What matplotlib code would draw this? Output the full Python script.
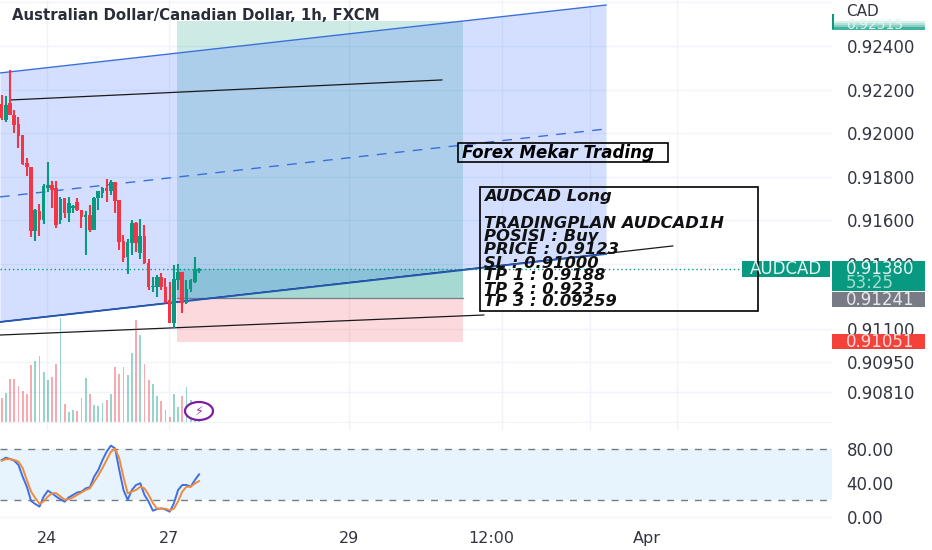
import matplotlib
matplotlib.use('Agg')
import matplotlib.pyplot as plt
from matplotlib.patches import Rectangle, Ellipse

# candles, one row per hour
opens = [.92134, .92060, .92138, .92083, .92042, .91991, .91863, .91845, .91551, .91643, .91601, .91748,
         .91762, .91748, .91601, .91702, .91633, .91656, .91684, .91647, .91615, .91624, .91555, .91702,
         .91725, .91748, .91734, .91776, .91693, .91505, .91431, .91496, .91588, .91450, .91528, .91404,
         .91294, .91294, .91340, .91294, .91234, .91129, .91326, .91363, .91220, .91285, .91317, .91367]
highs = [.92175, .92170, .92290, .92106, .92074, .91991, .91886, .91845, .91652, .91675, .91767, .91868,
         .91780, .91780, .91707, .91702, .91707, .91670, .91702, .91647, .91643, .91670, .91707, .91734,
         .91753, .91790, .91785, .91776, .91693, .91532, .91514, .91601, .91592, .91606, .91578, .91422,
         .91340, .91349, .91358, .91335, .91317, .91395, .91399, .91363, .91326, .91331, .91431, .91381]
lows = [.92060, .92051, .92083, .92001, .91932, .91854, .91803, .91523, .91505, .91528, .91583, .91730,
        .91656, .91565, .91583, .91611, .91592, .91633, .91643, .91565, .91441, .91546, .91555, .91647,
        .91702, .91684, .91716, .91633, .91464, .91409, .91353, .91441, .91454, .91422, .91399, .91280,
        .91271, .91248, .91280, .91220, .91129, .91106, .91280, .91174, .91216, .91271, .91312, .91358]
closes = [.92070, .92129, .92083, .92037, .91987, .91858, .91845, .91551, .91647, .91601, .91757, .91762,
          .91739, .91578, .91698, .91633, .91679, .91666, .91647, .91615, .91624, .91555, .91702, .91734,
          .91748, .91734, .91776, .91689, .91500, .91427, .91500, .91588, .91496, .91528, .91404, .91294,
          .91298, .91340, .91294, .91220, .91129, .91331, .91363, .91220, .91285, .91326, .91376, .91376]
volumes = [25, 30, 44, 44, 37, 32, 29, 58, 62, 67, 51, 43, 46, 59, 105, 19, 11, 13, 12, 25, 45, 29, 18, 17,
           20, 23, 29, 56, 49, 56, 48, 70, 103, 88, 59, 43, 39, 27, 22, 13, 6, 29, 16, 27, 36, 23, 3, 2]
stoch_k = [67, 69.8, 68.3, 66.2, 61.2, 47.4, 35.6, 18.9, 15.3, 12.2, 24, 31, 27.9, 24, 20.8, 18, 23.2,
           26, 28.9, 29.8, 33.7, 35, 47.4, 55.3, 67, 76.9, 84, 80.8, 55.3, 31.8, 20.2, 31.8, 37.7, 39.7,
           26, 18, 7.4, 9.4, 10.2, 8.8, 6.2, 16.1, 31.8, 37.7, 37.7, 35.6, 43.5, 50.2]
stoch_d = [66.2, 68.1, 68.1, 67.1, 65.2, 57.6, 43.3, 29.9, 22.2, 15.5, 18.4, 24.1, 28, 28, 24.1, 20.3, 20.8,
           23.2, 26, 28.9, 31.8, 33.7, 41.3, 49, 57.6, 67.1, 76.7, 80.5, 69.1, 47, 28, 29.9, 31.8, 35.6,
           33.7, 26, 16.5, 9.8, 9.8, 9.8, 7.9, 9.8, 18.4, 29.9, 35.6, 35.6, 39.4, 42.3]

# drawings
channel_x = [-0.4, 143.9]
channel_top = [.92276, .92588]
channel_mid = [.91707, .92019]
channel_bottom = [.91133, .91445]
trend_lines = [([2, 104.8], [.92152, .92244]),
               ([-0.4, 114.8], [.91073, .91165]),
               ([-0.4, 159.8], [.91133, .91482])]
position_x = [41.7, 109.8]
entry, target, stop = .91241, .92515, .91041
last_price = .91376

price_ticks = [.92400, .92200, .92000, .91800, .91600, .91400, .91100, .90950, .90810]
grid_prices = price_ticks + [.92602]
stoch_ticks = [0, 40, 80]
time_ticks = [10.8, 39.8, 82.7, 116.5, 153.6]
time_labels = ['24', '27', '29', '12:00', 'Apr']
grid_x = [10.8, 39.8, 82.7, 119.1, 140, 160.8]

plan_lines = [('AUDCAD Long', 197), ('TRADINGPLAN AUDCAD1H', 224), ('POSISI : Buy', 237),
              ('PRICE : 0.9123', 250), ('SL : 0.91000', 263), ('TP 1 : 0.9188', 276),
              ('TP 2 : 0.923', 289), ('TP 3 : 0.09259', 302)]

UP = '#089981'
DOWN = '#f23645'
BLUE = '#2962ff'
GRID = '#f0f3fa'
TEXT = '#333640'
W, H = 932, 550
XLIM = (-0.4, 197.7)


def panel(top, bottom):
    # axes between two pixel rows, as wide as the plot area
    ax = fig.add_axes([0, 1 - bottom / H, 832 / W, (bottom - top) / H])
    ax.set_xlim(XLIM)
    ax.patch.set_alpha(0)
    for s in ax.spines.values():
        s.set_visible(False)
    return ax


fig = plt.figure(figsize=(W / 100, H / 100), dpi=100)
xs = list(range(len(opens)))

# price pane
ax = panel(0, 430)
ax.set_ylim(.90637, .92611)
ax.yaxis.tick_right()
ax.set_yticks(price_ticks, [f'{p:.5f}' for p in price_ticks])
ax.set_xticks([])
ax.tick_params(axis='y', length=0, pad=10.5, labelsize=12, labelcolor=TEXT)
ax.hlines(grid_prices, XLIM[0], XLIM[1], color=GRID, lw=1, zorder=0)
ax.vlines(grid_x, .90637, .92611, color=GRID, lw=1, zorder=0)

ax.fill_between(position_x, entry, target, color=UP, alpha=0.2, lw=0, zorder=1)
ax.fill_between(position_x, entry, last_price, color=UP, alpha=0.2, lw=0, zorder=1)
ax.fill_between(position_x, stop, entry, color=DOWN, alpha=0.19, lw=0, zorder=1)
ax.plot(position_x, [entry, entry], color='#787b86', lw=0.9, zorder=1)
ax.fill_between(channel_x, channel_bottom, channel_top, color=BLUE, alpha=0.2, lw=0, zorder=2)
for lx, ly in trend_lines:
    ax.plot(lx, ly, color='#1a1a1a', lw=0.9, zorder=3)
ax.plot(channel_x, channel_top, color='#3a6fdc', lw=1, zorder=3)
ax.plot(channel_x, channel_bottom, color='#2358b8', lw=1.3, zorder=3)
ax.plot(channel_x, channel_mid, color='#3a6fdc', lw=1, ls=(0, (7, 6)), zorder=3)
ax.plot([XLIM[0], 176], [last_price, last_price], color=UP, lw=1, ls=(0, (1, 2)), zorder=3)

colors = [UP if c >= o else DOWN for o, c in zip(opens, closes)]
ax.vlines(xs, lows, highs, color=colors, lw=1.5, zorder=4)
ax.bar(xs, [abs(c - o) for o, c in zip(opens, closes)], bottom=[min(o, c) for o, c in zip(opens, closes)],
       width=0.85, color=colors, zorder=5)

# volume sits on the bottom of the price pane
vol = panel(300, 423)
vol.set_ylim(0, 123)
vol.set_xticks([])
vol.set_yticks([])
vol.axhline(0, color=GRID, lw=1.5)
vol.bar(xs, volumes, width=0.45, color=colors, alpha=0.42)

# stochastic pane
st = panel(430, 530)
st.set_ylim(-15.3, 102.4)
st.yaxis.tick_right()
st.set_yticks(stoch_ticks, [f'{v:.2f}' for v in stoch_ticks])
st.set_xticks(time_ticks, time_labels)
st.tick_params(axis='y', length=0, pad=10.5, labelsize=12, labelcolor=TEXT)
st.tick_params(axis='x', length=0, pad=1, labelsize=11.5, labelcolor=TEXT)
st.axhspan(20, 80, color='#2196f3', alpha=0.1, lw=0)
st.axhline(0, color=GRID, lw=1)
st.axhline(80, color='#787b86', lw=1, ls=(0, (5, 5)))
st.axhline(20, color='#787b86', lw=1, ls=(0, (5, 5)))
st.plot(xs, stoch_k, color='#3f6fe4', lw=1.4)
st.plot(xs, stoch_d, color='#f08a3c', lw=1.4)

# tags, boxes and header, placed in pixels
ov = fig.add_axes([0, 0, 1, 1], zorder=10)
ov.set_xlim(0, W)
ov.set_ylim(H, 0)
ov.axis('off')
ov.patch.set_alpha(0)

ov.text(12, 15, 'Australian Dollar/Canadian Dollar, 1h, FXCM', fontsize=10.7, color='#2a2e39', va='center',
        fontweight='bold')
ov.text(846, 12, 'CAD', fontsize=11, color=TEXT, va='center')
# last-price tag of the long position, fading out at the top
for y0, c in [(21, '#d9f0eb'), (23, '#b5e1d9'), (25, '#86cfc2'), (27, '#42b3a0')]:
    ov.add_patch(Rectangle((832, y0), 93, 2.5, color=c, lw=0))
ov.add_patch(Rectangle((832, 14), 1.5, 15, color=UP, lw=0))
ov.text(846, 25, '0.92515', fontsize=10, color='#e4f6f2', va='center')

for x0, y0, w, h, c in [(742, 261, 88, 16, UP), (832, 261, 93, 30, UP), (832, 292, 93, 15, '#787b86'),
                        (832, 334, 93, 15, '#f4413a')]:
    ov.add_patch(Rectangle((x0, y0), w, h, color=c, lw=0))
ov.text(750, 269.5, 'AUDCAD', fontsize=12, color='#e6f5f2', va='center')
ov.text(846, 269.5, '0.91380', fontsize=12, color='#e6f5f2', va='center')
ov.text(846, 283, '53:25', fontsize=12, color='#a5dcd0', va='center')
ov.text(846, 300, '0.91241', fontsize=12, color='#e8e8ec', va='center')
ov.text(846, 342, '0.91051', fontsize=12, color='#fbdcdc', va='center')

ov.add_patch(Rectangle((458, 143), 210, 19, fill=False, ec='black', lw=1.2))
ov.text(462, 152.5, 'Forex Mekar Trading', fontsize=12, fontweight='bold', fontstyle='italic', va='center')
ov.add_patch(Rectangle((480, 187), 278, 124, fill=False, ec='black', lw=1.2))
for line, y in plan_lines:
    ov.text(484, y, line, fontsize=11.8, fontweight='bold', fontstyle='italic', va='center', color='#111111')

ov.add_patch(Ellipse((199, 411), 28, 18, fill=True, fc='white', ec='#7b1fa2', lw=1.6))
ov.text(199, 411, '\u26a1', fontsize=9, color='#9c27b0', ha='center', va='center')

fig.savefig('out.png', dpi=100)
